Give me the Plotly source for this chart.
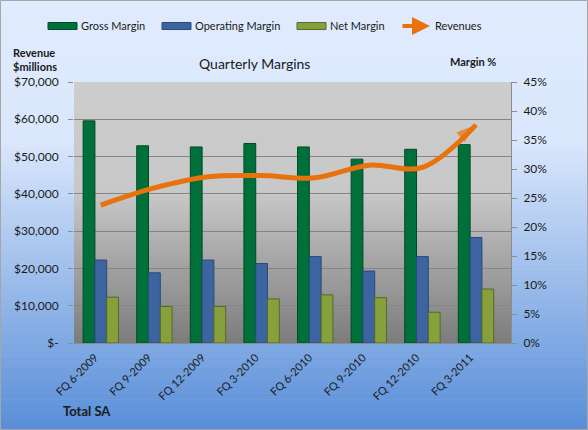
import plotly.graph_objects as go

# ---------------- data ----------------
quarters = ["FQ 6-2009", "FQ 9-2009", "FQ 12-2009", "FQ 3-2010",
            "FQ 6-2010", "FQ 9-2010", "FQ 12-2010", "FQ 3-2011"]
gross_margin = [38.3, 34.0, 33.8, 34.4, 33.8, 31.7, 33.4, 34.2]      # %
operating_margin = [14.3, 12.1, 14.3, 13.7, 14.9, 12.4, 14.9, 18.2]  # %
net_margin = [7.9, 6.3, 6.3, 7.6, 8.3, 7.8, 5.3, 9.3]                # %
revenues = [37000, 41600, 44600, 44900, 44300, 47700, 47100, 58500]  # $ millions

rev_tickvals = [0, 10000, 20000, 30000, 40000, 50000, 60000, 70000]
rev_ticktext = ["$-", "$10,000", "$20,000", "$30,000", "$40,000",
                "$50,000", "$60,000", "$70,000"]
pct_tickvals = [0, 5, 10, 15, 20, 25, 30, 35, 40, 45]
pct_ticktext = [f"{v}%" for v in pct_tickvals]

# ---------------- layout geometry ----------------
W, H = 588, 430
ML, MR, MT, MB = 74, 77, 82, 87
PW, PH = W - ML - MR, H - MT - MB
X0, X1 = -ML / PW, 1 + MR / PW
Y0, Y1 = -MB / PH, 1 + MT / PH

FONT = "Lato, 'Open Sans', sans-serif"
TXT = "#1a1a1a"


def lerp(c1, c2, t):
    return "rgb({},{},{})".format(*[round(a + (b - a) * t) for a, b in zip(c1, c2)])


shapes = []
# paper gradient (light blue -> deeper blue)
N = 70
for i in range(N):
    f0, f1 = i / N, (i + 1) / N  # 0 = top
    fm = (f0 + f1) / 2
    if fm < 0.33:
        col = lerp((224, 235, 253), (218, 231, 252), fm / 0.33)
    else:
        col = lerp((218, 231, 252), (88, 142, 216), (fm - 0.33) / 0.67)
    shapes.append(dict(type="rect", xref="paper", yref="paper", layer="below",
                       x0=X0, x1=X1, y0=Y1 - (Y1 - Y0) * f1 - 0.002,
                       y1=Y1 - (Y1 - Y0) * f0, line=dict(width=0), fillcolor=col))
# plot-area gradient (light grey -> darker grey)
M = 50
for i in range(M):
    f0, f1 = i / M, (i + 1) / M
    fm = (f0 + f1) / 2
    if fm < 0.42:
        col = lerp((205, 205, 205), (200, 200, 200), fm / 0.42)
    else:
        col = lerp((200, 200, 200), (124, 124, 124), (fm - 0.42) / 0.58)
    shapes.append(dict(type="rect", xref="paper", yref="paper", layer="below",
                       x0=0, x1=1, y0=1 - f1 - 0.003, y1=1 - f0,
                       line=dict(width=0), fillcolor=col))
# outer border
shapes.append(dict(type="rect", xref="paper", yref="paper", layer="above",
                   x0=X0 + 0.5 / PW, x1=X1 - 0.5 / PW, y0=Y0 + 0.5 / PH, y1=Y1 - 0.5 / PH,
                   line=dict(width=1, color="#a6a6a6"), fillcolor="rgba(0,0,0,0)"))

# ---------------- custom legend ----------------
legend_items = [
    ("Gross Margin", "#00703a", "#004a26", 48, 79),
    ("Operating Margin", "#3b64a0", "#2a4a78", 162, 193),
    ("Net Margin", "#86a03c", "#56692a", 297, 328),
]
annotations = []
ly = 26
for name, fc, lc, rx, tx in legend_items:
    shapes.append(dict(type="rect", xref="paper", yref="paper", layer="above",
                       x0=(rx - ML) / PW, x1=(rx + 29 - ML) / PW,
                       y0=1 + (MT - ly - 3.5) / PH, y1=1 + (MT - ly + 3.5) / PH,
                       line=dict(width=1, color=lc), fillcolor=fc))
    annotations.append(dict(xref="paper", yref="paper", x=(tx - ML) / PW,
                            y=1 + (MT - ly) / PH, text=name, showarrow=False,
                            xanchor="left", yanchor="middle",
                            font=dict(family=FONT, size=11, color=TXT)))
annotations.append(dict(xref="paper", yref="paper", x=(430 - ML) / PW,
                        y=1 + (MT - ly) / PH, ax=-29, ay=0,
                        axref="pixel", ayref="pixel", text="", showarrow=True,
                        arrowhead=2, arrowsize=0.9, arrowwidth=4, arrowcolor="#e8720c"))
annotations.append(dict(xref="paper", yref="paper", x=(433 - ML) / PW,
                        y=1 + (MT - ly) / PH, text="Revenues", showarrow=False,
                        xanchor="left", yanchor="middle",
                        font=dict(family=FONT, size=11, color=TXT)))

# titles / labels
annotations += [
    dict(xref="paper", yref="paper", x=(254 - ML) / PW, y=1 + (MT - 63) / PH,
         text="Quarterly Margins", showarrow=False, xanchor="center", yanchor="middle",
         font=dict(family=FONT, size=14, color=TXT)),
    dict(xref="paper", yref="paper", x=(11 - ML) / PW, y=1 + (MT - 60) / PH,
         text="<b>Revenue<br>$millions</b>", showarrow=False, xanchor="left",
         yanchor="middle", align="left", font=dict(family=FONT, size=11, color=TXT)),
    dict(xref="paper", yref="paper", x=(498 - ML) / PW, y=1 + (MT - 61) / PH,
         text="<b>Margin %</b>", showarrow=False, xanchor="right", yanchor="middle",
         font=dict(family=FONT, size=11, color=TXT)),
    dict(xref="paper", yref="paper", x=(61 - ML) / PW, y=-(411 - MT - PH) / PH,
         text="<b>Total SA</b>", showarrow=False, xanchor="left", yanchor="middle",
         font=dict(family=FONT, size=13, color=TXT)),
]

# ---------------- traces ----------------
fig = go.Figure()
for name, vals, fc, lc in [("Gross Margin", gross_margin, "#00703a", "#004a26"),
                           ("Operating Margin", operating_margin, "#3b64a0", "#2a4a78"),
                           ("Net Margin", net_margin, "#86a03c", "#56692a")]:
    fig.add_trace(go.Bar(x=quarters, y=vals, name=name, yaxis="y",
                         marker=dict(color=fc, line=dict(color=lc, width=1))))

sizes = [0] * (len(revenues) - 1) + [21]
fig.add_trace(go.Scatter(x=quarters, y=revenues, name="Revenues", yaxis="y2",
                         mode="lines+markers",
                         line=dict(color="#e8720c", width=5, shape="spline", smoothing=1.0),
                         marker=dict(symbol="arrow", angleref="previous", size=sizes,
                                     color="#e8720c", line=dict(width=0))))

fig.update_layout(
    width=W, height=H,
    margin=dict(l=ML, r=MR, t=MT, b=MB, pad=0),
    paper_bgcolor="#e0ebfd", plot_bgcolor="rgba(0,0,0,0)",
    showlegend=False,
    barmode="group", bargap=0.34, bargroupgap=0,
    font=dict(family=FONT, size=12, color=TXT),
    shapes=shapes, annotations=annotations,
    xaxis=dict(type="category", tickangle=-45, showgrid=False,
               tickfont=dict(family=FONT, size=11, color=TXT),
               showline=True, linecolor="#8c8c8c", linewidth=1,
               ticks="", ticklabelshift=-6, ticklabelstandoff=3),
    yaxis=dict(side="right", range=[0, 45], tickvals=pct_tickvals, ticktext=pct_ticktext,
               showgrid=False, zeroline=False, showline=True, linecolor="#8c8c8c",
               ticks="outside", ticklen=5, tickcolor="#8c8c8c", ticklabelstandoff=4,
               tickfont=dict(family=FONT, size=12, color=TXT)),
    yaxis2=dict(side="left", overlaying="y", range=[0, 70000], tickvals=rev_tickvals,
                ticktext=rev_ticktext, showgrid=True, gridcolor="#858585", gridwidth=1,
                zeroline=False, showline=False, ticks="outside", ticklen=5,
                tickcolor="#8c8c8c", ticklabelstandoff=7,
                tickfont=dict(family=FONT, size=12, color=TXT)),
)

fig.write_html("out.html", config={"displayModeBar": False},
               post_script="document.body.style.margin='0';document.body.style.overflow='hidden';")
